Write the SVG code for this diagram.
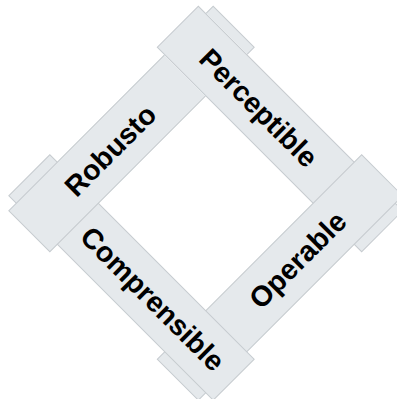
<svg xmlns="http://www.w3.org/2000/svg" width="397" height="399" viewBox="0 0 397 399">
  <style>
    .bar { fill: #e5e9ec; stroke: #c6cbcf; stroke-width: 1; }
    .lbl { font-family: "Liberation Sans", Arial, sans-serif; font-weight: bold; font-size: 28.5px; fill: #000; text-anchor: middle; }
  </style>
  <defs>
    <clipPath id="clipUnderTop" clipPathUnits="userSpaceOnUse">
      <path clip-rule="evenodd" d="M-200,-200 H200 V200 H-200 Z M-170,-134.5 H-40 V-75.5 H-170 Z"/>
    </clipPath>
  </defs>
  <rect width="397" height="399" fill="#fff"/>
  <g transform="translate(205.75,203.25) rotate(45)">
    <g id="perceptible">
      <rect class="bar" x="-144.5" y="-134" width="289" height="58"/>
      <text class="lbl" x="-30" y="-95">Perceptible</text>
    </g>
    <g id="operable">
      <rect class="bar" x="76" y="-144.5" width="58" height="289"/>
      <text class="lbl" transform="translate(105,-25) rotate(-90)" x="0" y="10">Operable</text>
    </g>
    <g id="comprensible">
      <rect class="bar" x="-144.5" y="76" width="289" height="58"/>
      <text class="lbl" x="30" y="115">Comprensible</text>
    </g>
    <g id="robusto" clip-path="url(#clipUnderTop)">
      <rect class="bar" x="-134" y="-144.5" width="58" height="289"/>
      <text class="lbl" transform="translate(-105,30) rotate(-90)" x="0" y="10">Robusto</text>
    </g>
  </g>
</svg>
